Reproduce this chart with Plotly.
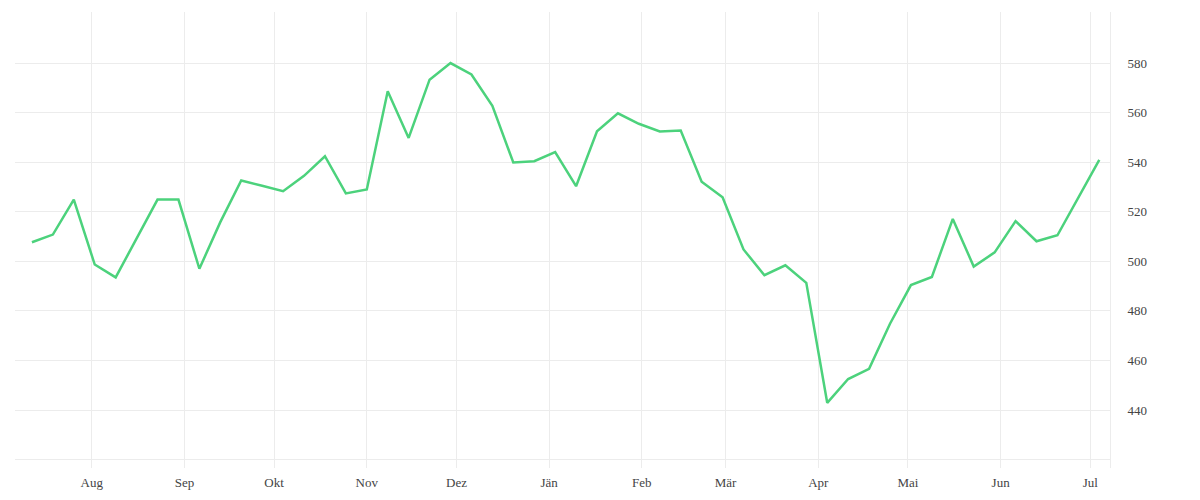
import pandas as pd
import plotly.graph_objects as go

# weekly values
start_date = "2022-07-12"
values = [
    507.7, 510.8, 524.9, 498.7, 493.5, 509.0, 524.9, 524.9, 497.0, 515.8,
    532.6, 530.5, 528.3, 534.5, 542.4, 527.4, 529.0, 568.6, 549.8, 573.3,
    580.0, 575.4, 562.7, 539.9, 540.4, 544.1, 530.3, 552.5, 559.7, 555.5,
    552.4, 552.8, 532.1, 525.8, 504.8, 494.4, 498.4, 491.3, 442.9, 452.5,
    456.6, 474.8, 490.4, 493.7, 517.1, 497.9, 503.6, 516.2, 508.1, 510.5,
    525.4, 540.9,
]
dates = pd.date_range(start_date, periods=len(values), freq="7D")

month_ticks = pd.date_range("2022-08-01", "2023-07-01", freq="MS")
month_labels = ["Aug", "Sep", "Okt", "Nov", "Dez", "Jän",
                "Feb", "Mär", "Apr", "Mai", "Jun", "Jul"]
y_ticks = [440, 460, 480, 500, 520, 540, 560, 580]

fig = go.Figure()
fig.add_trace(go.Scatter(
    x=dates, y=values, mode="lines",
    line=dict(color="#4cd27c", width=2.5),
    hoverinfo="x+y", showlegend=False,
))

grid = "#ececec"
# page body adds an 8px margin, so the figure is a bit smaller than the window
fig.update_layout(
    width=1192, height=492,
    margin=dict(l=7, r=90, t=4, b=32),
    paper_bgcolor="white", plot_bgcolor="white",
    font=dict(family="Liberation Serif, DejaVu Serif, serif", size=13, color="#444"),
    xaxis=dict(
        range=["2022-07-06 08:00", "2023-07-07 14:00"],
        tickvals=list(month_ticks), ticktext=month_labels,
        showgrid=True, gridcolor=grid, gridwidth=1,
        zeroline=False, showline=False, ticks="",
        ticklabelstandoff=5,
    ),
    yaxis=dict(
        side="right", range=[416.6, 600.6],
        tickvals=y_ticks + [420], ticktext=[str(v) for v in y_ticks] + [""],
        showgrid=True, gridcolor=grid, gridwidth=1,
        zeroline=False, showline=True, linecolor=grid, linewidth=1,
        ticks="", ticklabelstandoff=14,
    ),
)

fig.write_html("out.html")
